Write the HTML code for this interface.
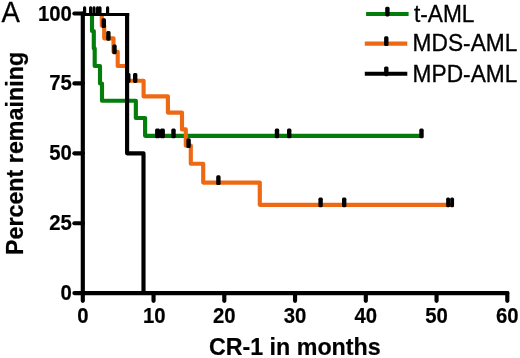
<!DOCTYPE html>
<html lang="en"><head><meta charset="utf-8"><title>Figure A</title>
<style>html,body{margin:0;padding:0;background:#fff}svg{display:block}</style>
</head><body>
<svg width="520" height="358" viewBox="0 0 520 358">
<rect width="520" height="358" fill="#fff"/>
<g fill="none" stroke-width="4.15" stroke-linejoin="round" stroke-linecap="butt">
<path d="M92.00,14.00 L92.00,31.00 L93.80,31.00 L93.80,48.40 L94.70,48.40 L94.70,66.00 L100.00,66.00 L100.00,83.50 L102.00,83.50 L102.00,100.70 L135.85,100.70 L135.85,118.00 L145.10,118.00 L145.10,135.85 L421.50,135.85" stroke="#057d0c"/>
<path d="M101.80,14.00 L101.80,25.60 L104.20,25.60 L104.20,38.30 L113.50,38.30 L113.50,51.80 L117.70,51.80 L117.70,66.00 L127.20,66.00 M127.20,80.70 L143.60,80.70 L143.60,96.40 L167.90,96.40 L167.90,112.60 L182.00,112.60 L182.00,129.40 L185.80,129.40 L185.80,145.60 L190.80,145.60 L190.80,163.70 L203.20,163.70 L203.20,182.60 L259.80,182.60 L259.80,204.85 L451.50,204.85" stroke="#ee6914"/>
<path d="M127.10,12.95 L127.10,153.30 L143.50,153.30 L143.50,293.10" stroke="#000"/>
<line x1="82.80" y1="14.5" x2="129.17" y2="14.5" stroke="#000" stroke-width="3.1"/>
</g>
<g fill="none" stroke="#000" stroke-width="4.15" stroke-linecap="round" stroke-linejoin="round">
<path d="M82.80,13.50 V293.10 H507.30"/>
<line x1="82.80" y1="293.10" x2="82.80" y2="300.80"/>
<line x1="153.55" y1="293.10" x2="153.55" y2="300.80"/>
<line x1="224.30" y1="293.10" x2="224.30" y2="300.80"/>
<line x1="295.05" y1="293.10" x2="295.05" y2="300.80"/>
<line x1="365.80" y1="293.10" x2="365.80" y2="300.80"/>
<line x1="436.55" y1="293.10" x2="436.55" y2="300.80"/>
<line x1="507.30" y1="293.10" x2="507.30" y2="300.80"/>
<line x1="82.80" y1="293.10" x2="74.40" y2="293.10"/>
<line x1="82.80" y1="223.20" x2="74.40" y2="223.20"/>
<line x1="82.80" y1="153.30" x2="74.40" y2="153.30"/>
<line x1="82.80" y1="83.40" x2="74.40" y2="83.40"/>
<line x1="82.80" y1="13.50" x2="74.40" y2="13.50"/>
</g>
<g fill="#000" stroke="none">
<rect x="83.00" y="6.30" width="3.20" height="9.80" rx="1.4" ry="1.7"/>
<rect x="89.00" y="6.30" width="3.20" height="9.80" rx="1.4" ry="1.7"/>
<rect x="92.40" y="6.30" width="3.20" height="9.80" rx="1.4" ry="1.7"/>
<rect x="95.95" y="6.30" width="3.20" height="9.80" rx="1.4" ry="1.7"/>
<rect x="98.35" y="6.30" width="3.20" height="9.80" rx="1.4" ry="1.7"/>
<rect x="106.00" y="6.30" width="3.20" height="9.80" rx="1.4" ry="1.7"/>
<rect x="101.60" y="18.30" width="4.40" height="9.80" rx="1.4" ry="1.7"/>
<rect x="106.20" y="31.00" width="4.40" height="9.80" rx="1.4" ry="1.7"/>
<rect x="112.30" y="44.50" width="4.40" height="9.80" rx="1.4" ry="1.7"/>
<rect x="126.10" y="73.10" width="4.40" height="9.80" rx="1.4" ry="1.7"/>
<rect x="133.00" y="73.10" width="4.40" height="9.80" rx="1.4" ry="1.7"/>
<rect x="186.40" y="138.30" width="4.40" height="9.80" rx="1.4" ry="1.7"/>
<rect x="216.20" y="175.30" width="4.40" height="9.80" rx="1.4" ry="1.7"/>
<rect x="318.40" y="197.55" width="4.40" height="9.80" rx="1.4" ry="1.7"/>
<rect x="342.00" y="197.55" width="4.40" height="9.80" rx="1.4" ry="1.7"/>
<rect x="446.15" y="197.55" width="3.90" height="9.80" rx="1.4" ry="1.7"/>
<rect x="450.15" y="197.55" width="3.90" height="9.80" rx="1.4" ry="1.7"/>
<rect x="155.08" y="128.55" width="4.95" height="9.80" rx="1.4" ry="1.7"/>
<rect x="159.97" y="128.55" width="4.95" height="9.80" rx="1.4" ry="1.7"/>
<rect x="171.30" y="128.55" width="4.40" height="9.80" rx="1.4" ry="1.7"/>
<rect x="274.80" y="128.55" width="4.40" height="9.80" rx="1.4" ry="1.7"/>
<rect x="287.00" y="128.55" width="4.40" height="9.80" rx="1.4" ry="1.7"/>
<rect x="419.30" y="128.55" width="4.40" height="9.80" rx="1.4" ry="1.7"/>
</g>
<g stroke-width="4.15" fill="none">
<line x1="366.1" y1="14" x2="408.6" y2="14" stroke="#057d0c"/>
<line x1="364.8" y1="43.6" x2="407.3" y2="43.6" stroke="#ee6914"/>
<line x1="364.8" y1="73.7" x2="407.3" y2="73.7" stroke="#000"/>
</g>
<g fill="#000" stroke="none">
<rect x="385.20" y="6.70" width="4.40" height="9.80" rx="1.4" ry="1.7"/>
<rect x="384.10" y="36.30" width="4.40" height="9.80" rx="1.4" ry="1.7"/>
<rect x="384.10" y="66.40" width="4.40" height="9.80" rx="1.4" ry="1.7"/>
</g>
<g font-family="'Liberation Sans', Arial, Helvetica, sans-serif" fill="#000" stroke="#000" stroke-width="0.32" stroke-linejoin="round">
<text transform="translate(1.50,21.70) scale(0.9480,1)" font-size="29.00">A</text>
<text transform="translate(413.90,21.90) scale(0.9590,1)" font-size="23.70">t-AML</text>
<text transform="translate(412.60,51.00) scale(0.9590,1)" font-size="23.70">MDS-AML</text>
<text transform="translate(412.60,81.60) scale(0.9590,1)" font-size="23.70">MPD-AML</text>
<text transform="translate(82.80,323.30) scale(0.9380,1)" font-size="21.70" text-anchor="middle" font-weight="bold" stroke-width="0.2">0</text>
<text transform="translate(154.35,323.30) scale(0.9380,1)" font-size="21.70" text-anchor="middle" font-weight="bold" stroke-width="0.2">10</text>
<text transform="translate(224.30,323.30) scale(0.9380,1)" font-size="21.70" text-anchor="middle" font-weight="bold" stroke-width="0.2">20</text>
<text transform="translate(295.05,323.30) scale(0.9380,1)" font-size="21.70" text-anchor="middle" font-weight="bold" stroke-width="0.2">30</text>
<text transform="translate(365.80,323.30) scale(0.9380,1)" font-size="21.70" text-anchor="middle" font-weight="bold" stroke-width="0.2">40</text>
<text transform="translate(436.55,323.30) scale(0.9380,1)" font-size="21.70" text-anchor="middle" font-weight="bold" stroke-width="0.2">50</text>
<text transform="translate(507.30,323.30) scale(0.9380,1)" font-size="21.70" text-anchor="middle" font-weight="bold" stroke-width="0.2">60</text>
<text transform="translate(71.90,300.00) scale(0.9380,1)" font-size="21.70" text-anchor="end" font-weight="bold" stroke-width="0.2">0</text>
<text transform="translate(71.90,230.10) scale(0.9380,1)" font-size="21.70" text-anchor="end" font-weight="bold" stroke-width="0.2">25</text>
<text transform="translate(71.90,160.20) scale(0.9380,1)" font-size="21.70" text-anchor="end" font-weight="bold" stroke-width="0.2">50</text>
<text transform="translate(71.90,90.30) scale(0.9380,1)" font-size="21.70" text-anchor="end" font-weight="bold" stroke-width="0.2">75</text>
<text transform="translate(71.90,20.60) scale(0.9380,1)" font-size="21.70" text-anchor="end" font-weight="bold" stroke-width="0.2">100</text>
<text transform="translate(208.90,354.70) scale(1.0000,1)" font-size="23.25" font-weight="bold" stroke-width="0.2">CR-1 in months</text>
<text transform="translate(23.05,255.10) rotate(-90) scale(1.0000,1)" font-size="23.30" font-weight="bold" stroke-width="0.2">Percent remaining</text>
</g>
</svg>
</body></html>
